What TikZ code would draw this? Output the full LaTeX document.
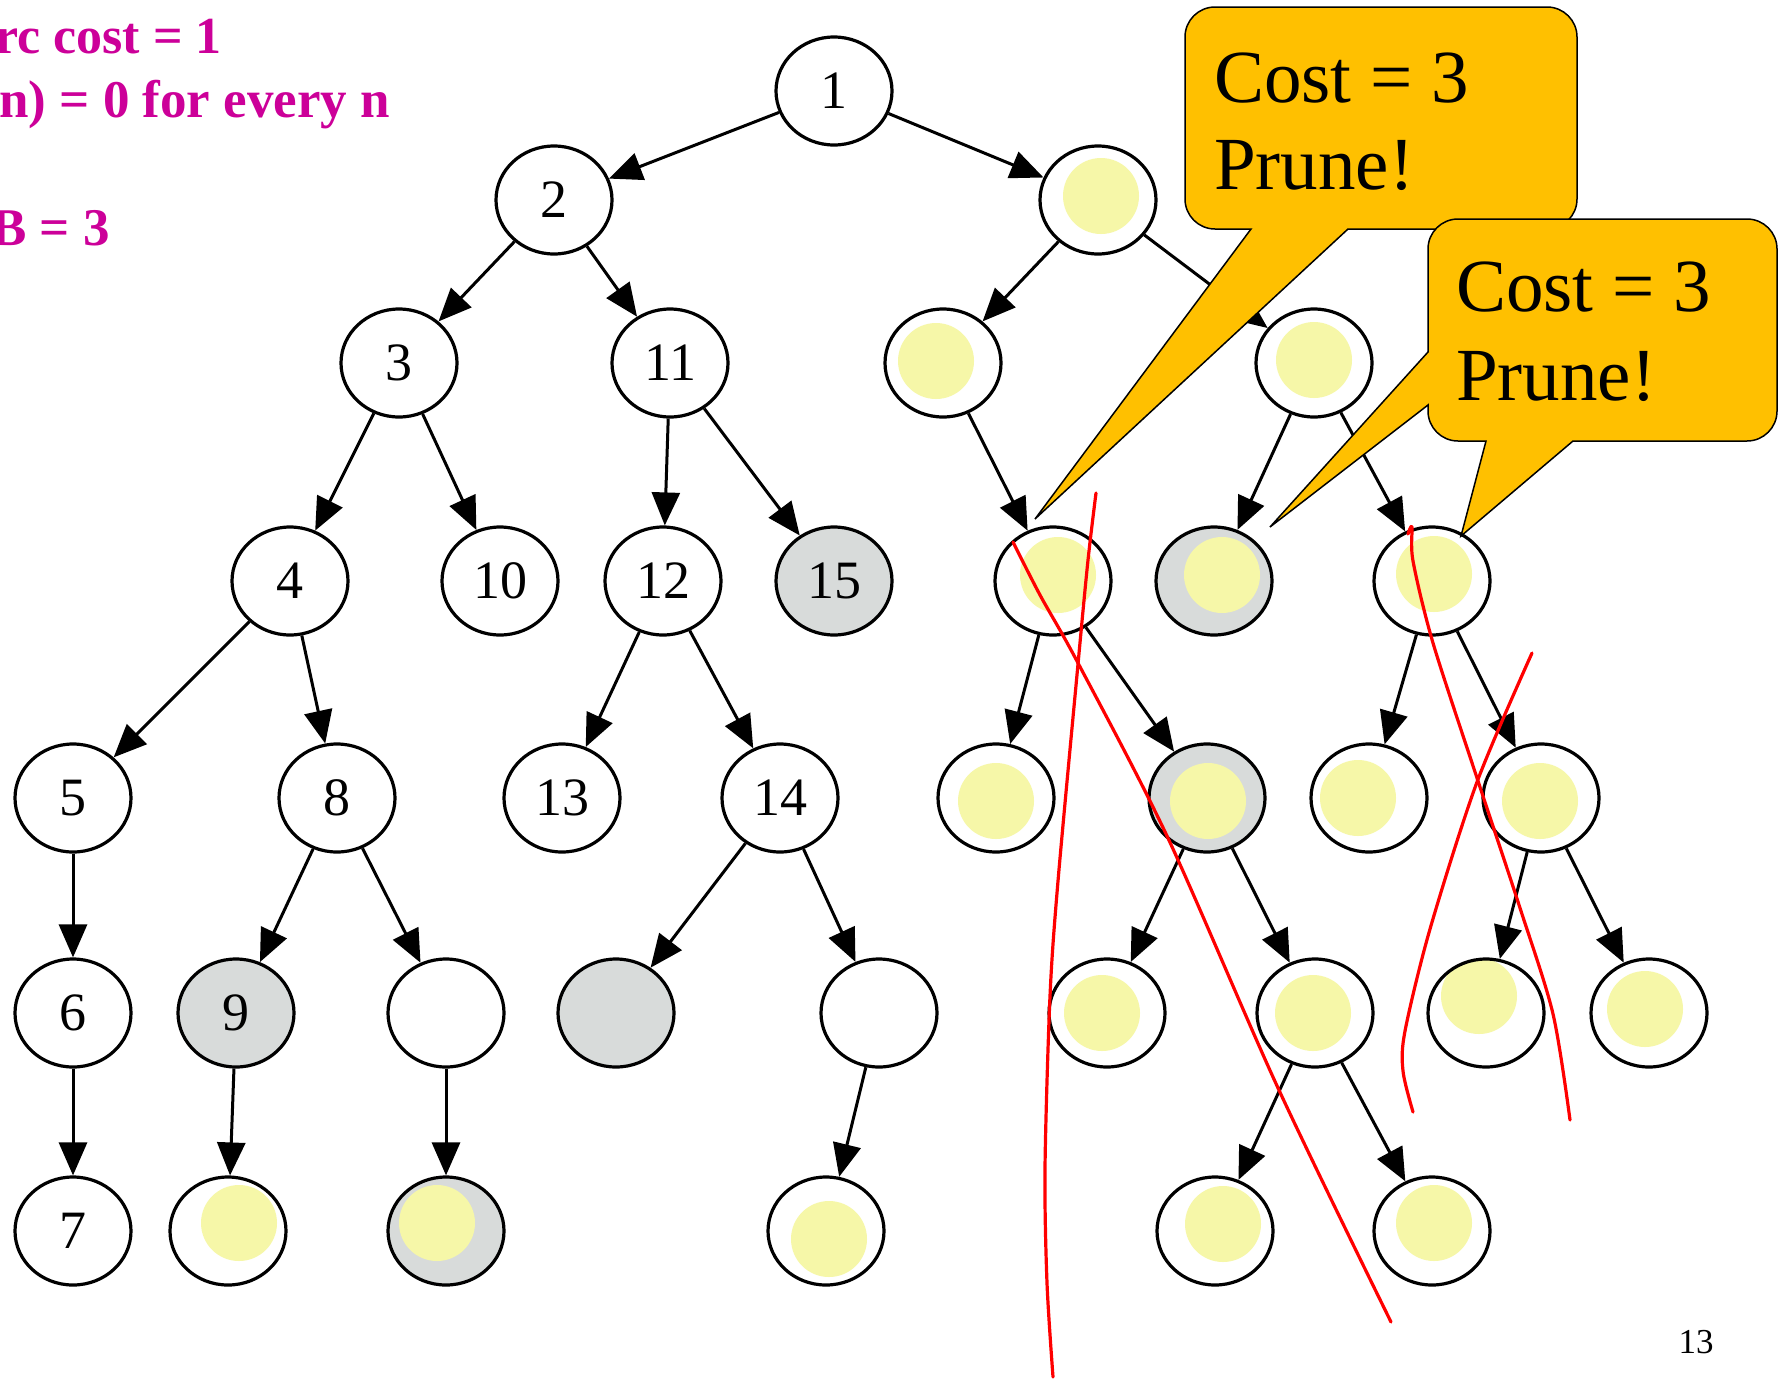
\documentclass[tikz,border=0pt]{standalone}
\usepackage{fontspec}
\setmainfont{Liberation Serif}
\usetikzlibrary{shapes.geometric,arrows.meta}
\definecolor{closedgray}{RGB}{216,219,218}
\definecolor{bloom}{RGB}{246,247,168}
\definecolor{gold}{RGB}{255,192,0}
\definecolor{note}{RGB}{204,0,153}
\tikzset{
  state/.style={ellipse,draw,line width=3.2pt,minimum width=116pt,minimum height=108pt,
    inner sep=0pt,fill=white,font=\fontsize{54}{54}\selectfont},
  closed/.style={state,fill=closedgray},
  % yellow disc inside a node, shifted by (#1,#2)
  lit/.style 2 args={path picture={\fill[bloom] ([shift={(#1,#2)}]path picture bounding box.center) circle (38pt);}},
  link/.style={->,line width=3pt},
  balloon/.style={fill=gold,draw=black,line width=1.5pt},
  cut/.style={red,line width=3.2pt,line cap=round,line join=round},
}
\begin{document}
\begin{tikzpicture}[x=1pt,y=-1pt,>={Triangle[length=33pt,width=28pt]}]
  \useasboundingbox (0,0) rectangle (1779,1379);
  % notes on the left
  \node[anchor=base west,inner sep=0pt,text=note,font=\bfseries\fontsize{52}{52}\selectfont] (arc) at (-5,53) {rc cost = 1};
  \node[anchor=base west,inner sep=0pt,text=note,font=\bfseries\fontsize{53}{53}\selectfont] (hn) at (-1,117) {n) = 0 for every n};
  \node[anchor=base west,inner sep=0pt,text=note,font=\bfseries\fontsize{53}{53}\selectfont] (ub) at (-9,245) {B = 3};
  % tree
  \node[state] (n1) at (834,91) {1};
  \node[state] (n2) at (554,200) {2};
  \node[state,lit={3}{-4}] (r) at (1098,200) {};
  \node[state] (n3) at (399,363) {3};
  \node[state] (n11) at (670,363) {11};
  \node[state,lit={-7}{-2}] (rl) at (943,363) {};
  \node[state,lit={0}{-3}] (rr) at (1314,363) {};
  \node[state] (n4) at (290,581) {4};
  \node[state] (n10) at (500,581) {10};
  \node[state] (n12) at (663,581) {12};
  \node[closed] (n15) at (834,581) {15};
  \node[state,lit={5}{-6}] (rla) at (1053,581) {};
  \node[closed,lit={8}{-6}] (rra) at (1214,581) {};
  \node[state,lit={2}{-7}] (rrb) at (1432,581) {};
  \node[state] (n5) at (73,798) {5};
  \node[state] (n8) at (337,798) {8};
  \node[state] (n13) at (562,798) {13};
  \node[state] (n14) at (780,798) {14};
  \node[state,lit={0}{3}] (rlaa) at (996,798) {};
  \node[closed,lit={1}{3}] (rlab) at (1207,798) {};
  \node[state,lit={-11}{0}] (rrba) at (1369,798) {};
  \node[state,lit={-1}{3}] (rrbb) at (1541,798) {};
  \node[state] (n6) at (73,1013) {6};
  \node[closed] (n9) at (236,1013) {9};
  \node[state] (n8b) at (446,1013) {};
  \node[closed] (n14a) at (616,1013) {};
  \node[state] (n14b) at (879,1013) {};
  \node[state,lit={-5}{0}] (rlaba) at (1107,1013) {};
  \node[state,lit={-2}{0}] (rlabb) at (1315,1013) {};
  \node[state,lit={-7}{-17}] (rrbba) at (1486,1013) {};
  \node[state,lit={-4}{-4}] (rrbbb) at (1649,1013) {};
  \node[state] (n7) at (73,1231) {7};
  \node[state,lit={11}{-8}] (n9a) at (228,1231) {};
  \node[closed,lit={-9}{-8}] (n8ba) at (446,1231) {};
  \node[state,lit={3}{8}] (n14ba) at (826,1231) {};
  \node[state,lit={8}{-7}] (rlabba) at (1215,1231) {};
  \node[state,lit={2}{-8}] (rlabbb) at (1432,1231) {};
  \foreach \a/\b in {n1/n2,n1/r,n2/n3,n2/n11,r/rl,r/rr,n3/n4,n3/n10,n11/n12,n11/n15,
      rl/rla,rr/rra,rr/rrb,n4/n5,n4/n8,n12/n13,n12/n14,rla/rlaa,rla/rlab,rrb/rrba,rrb/rrbb,
      n5/n6,n8/n9,n8/n8b,n14/n14a,n14/n14b,rlab/rlaba,rlab/rlabb,rrbb/rrbba,rrbb/rrbbb,
      n6/n7,n9/n9a,n8b/n8ba,n14b/n14ba,rlabb/rlabba,rlabb/rlabbb}
    \draw[link] (\a) -- (\b);
  % pen strokes
  \draw[cut] plot[smooth] coordinates {(1096,493) (1088,560) (1078,664) (1058,881) (1050,996) (1045,1168) (1047,1283) (1053,1377)};
  \draw[cut] plot[smooth] coordinates {(1013,542) (1040,595) (1078,663) (1167,836) (1278,1088) (1391,1322)};
  \draw[cut] plot[smooth] coordinates {(1408,534) (1412,527) (1413,561) (1433,643) (1477,778) (1520,908) (1553,1014) (1570,1120)};
  \draw[cut] plot[smooth] coordinates {(1532,653) (1477,782) (1430,929) (1405,1031) (1403,1071) (1413,1112)};
  % callouts
  \draw[balloon] (1035,519) -- (1348,229) -- (1547,229) arc[start angle=270,end angle=360,radius=30pt]
    -- (1577,37) arc[start angle=0,end angle=90,radius=30pt]
    -- (1215,7) arc[start angle=90,end angle=180,radius=30pt]
    -- (1185,199) arc[start angle=180,end angle=270,radius=30pt] -- (1251,229) -- cycle;
  \node[anchor=base west,inner sep=0pt,font=\fontsize{75}{75}\selectfont] (c1a) at (1214,102) {Cost = 3};
  \node[anchor=base west,inner sep=0pt,font=\fontsize{75}{75}\selectfont] (c1b) at (1214,189) {Prune!};
  \draw[balloon] (1270,527) -- (1428,405) -- (1428,411) arc[start angle=180,end angle=270,radius=30pt]
    -- (1486,441) -- (1461,536) -- (1573,441) -- (1747,441) arc[start angle=270,end angle=360,radius=30pt]
    -- (1777,249) arc[start angle=0,end angle=90,radius=30pt]
    -- (1458,219) arc[start angle=90,end angle=180,radius=30pt] -- (1428,352) -- cycle;
  \node[anchor=base west,inner sep=0pt,font=\fontsize{75}{75}\selectfont] (c2a) at (1456,311) {Cost = 3};
  \node[anchor=base west,inner sep=0pt,font=\fontsize{75}{75}\selectfont] (c2b) at (1456,400) {Prune!};
  \node[anchor=base,inner sep=0pt,font=\fontsize{35}{35}\selectfont] (page) at (1696,1353) {13};
\end{tikzpicture}
\end{document}
